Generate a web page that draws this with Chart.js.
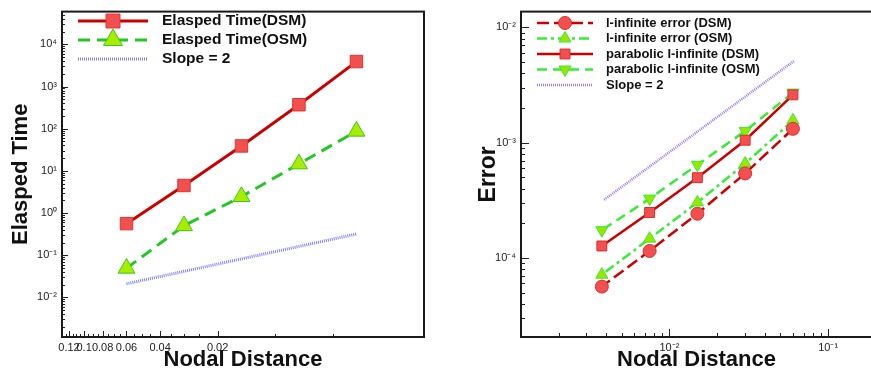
<!DOCTYPE html>
<html>
<head>
<meta charset="utf-8">
<script src="https://cdn.jsdelivr.net/npm/chart.js@4.4.1/dist/chart.umd.min.js"></script>
<style>
    html, body { margin: 0; padding: 0; background: #fff; overflow: hidden; width: 871px; height: 374px; }
    #box-time { position: absolute; left: 0; top: 0; width: 435px; height: 374px; }
    #box-error { position: absolute; left: 435px; top: 0; width: 445px; height: 374px; }
</style>
</head>
<body>
<div id="box-time"><canvas id="chart-time"></canvas></div>
<div id="box-error"><canvas id="chart-error"></canvas></div>
<script>
// ---- data ----
const nodalDistance = [0.06, 0.03, 0.015, 0.0075, 0.00375];

// left chart: elapsed time
const timeDSM = [0.56, 4.5, 39, 370, 3900];
const timeOSM = [0.049, 0.50, 2.45, 14.6, 87];
const slopeTimeX = [0.06, 0.00373];
const slopeTimeY = [0.021, 0.32];

// right chart: errors (same order as nodalDistance)
const linfDSM = [1.32e-3, 5.41e-4, 2.42e-4, 1.15e-4, 5.64e-5];
const linfOSM = [1.56e-3, 6.59e-4, 3.03e-4, 1.47e-4, 7.15e-5];
const paraDSM = [2.60e-3, 1.05e-3, 4.97e-4, 2.48e-4, 1.27e-4];
const paraOSM = [2.72e-3, 1.26e-3, 6.43e-4, 3.27e-4, 1.74e-4];
const slopeErrX = [0.00388, 0.0608];
const slopeErrY = [3.2e-4, 5.1e-3];

// tick labels
const timeXTicks = [0.12, 0.1, 0.08, 0.06, 0.04, 0.02];
const timeXMinor = [0.125, 0.115, 0.11, 0.105, 0.095, 0.09, 0.085, 0.075, 0.07, 0.065,
                    0.055, 0.05, 0.045, 0.035, 0.03, 0.025, 0.01, 0.005];
const timeYTicks = [1e-2, 1e-1, 1e0, 1e1, 1e2, 1e3, 1e4];
const errXTicks = [1e-2, 1e-1];
const errYTicks = [1e-4, 1e-3, 1e-2];

const FONT = '"Liberation Sans", Arial, Helvetica, sans-serif';

function sup(n) {
    const map = { '-': '\u207B', '0': '\u2070', '1': '\u00B9', '2': '\u00B2', '3': '\u00B3',
        '4': '\u2074', '5': '\u2075', '6': '\u2076', '7': '\u2077', '8': '\u2078', '9': '\u2079' };
    return String(n).split('').map(c => map[c]).join('');
}
function powLabel(v) {
    return '10' + sup(Math.round(Math.log10(v)));
}
// 2..9 x 10^d between min and max
function logMinors(min, max) {
    const out = [];
    for (let d = Math.floor(Math.log10(min)); d <= Math.ceil(Math.log10(max)); d++) {
        for (let k = 2; k <= 9; k++) {
            const v = k * Math.pow(10, d);
            if (v > min && v < max) out.push(v);
        }
    }
    return out;
}
function pairs(xs, ys) {
    return xs.map((x, i) => ({ x: x, y: ys[i] }));
}

// frame box + inward tick marks (Tecplot style)
const frameTicks = {
    id: 'frameTicks',
    afterDatasetsDraw(chart, args, opts) {
        const { ctx, chartArea: a } = chart;
        const xs = chart.scales.x, ys = chart.scales.y;
        ctx.save();
        ctx.strokeStyle = '#222';
        ctx.lineWidth = 1;
        ctx.beginPath();
        opts.xMajor.forEach(v => {
            const p = Math.round(xs.getPixelForValue(v)) + 0.5;
            ctx.moveTo(p, a.bottom); ctx.lineTo(p, a.bottom - opts.majorLen);
        });
        opts.xMinor.forEach(v => {
            const p = Math.round(xs.getPixelForValue(v)) + 0.5;
            ctx.moveTo(p, a.bottom); ctx.lineTo(p, a.bottom - opts.minorLen);
        });
        opts.yMajor.forEach(v => {
            const p = Math.round(ys.getPixelForValue(v)) + 0.5;
            ctx.moveTo(a.left, p); ctx.lineTo(a.left + opts.majorLen, p);
        });
        opts.yMinor.forEach(v => {
            const p = Math.round(ys.getPixelForValue(v)) + 0.5;
            ctx.moveTo(a.left, p); ctx.lineTo(a.left + opts.minorLen, p);
        });
        ctx.stroke();
        ctx.strokeStyle = '#1a1a1a';
        ctx.lineWidth = 2;
        ctx.strokeRect(a.left, a.top, a.right - a.left, a.bottom - a.top);
        ctx.restore();
    }
};

// legend with line sample and marker in the middle
const lineLegend = {
    id: 'lineLegend',
    afterDraw(chart, args, opts) {
        const ctx = chart.ctx;
        ctx.save();
        chart.data.datasets.forEach((ds, i) => {
            const y = opts.y0 + i * opts.dy;
            ctx.strokeStyle = ds.borderColor;
            ctx.lineWidth = ds.borderWidth;
            ctx.setLineDash(ds.borderDash || []);
            ctx.beginPath();
            ctx.moveTo(opts.x0, y);
            ctx.lineTo(opts.x1, y);
            ctx.stroke();
            ctx.setLineDash([]);
            if (ds.pointRadius > 0) {
                ctx.fillStyle = ds.pointBackgroundColor;
                ctx.strokeStyle = ds.pointBorderColor;
                ctx.lineWidth = ds.pointBorderWidth;
                Chart.helpers.drawPoint(ctx, {
                    pointStyle: ds.pointStyle,
                    radius: ds.pointRadius * opts.markerScale,
                    rotation: ds.pointRotation || 0,
                    borderWidth: ds.pointBorderWidth
                }, (opts.x0 + opts.x1) / 2, y);
            }
            ctx.fillStyle = '#111';
            ctx.font = 'bold ' + opts.fontSize + 'px ' + FONT;
            ctx.textBaseline = 'middle';
            ctx.textAlign = 'left';
            ctx.fillText(ds.label, opts.tx, y);
        });
        ctx.restore();
    }
};

function baseScales(cfg) {
    return {
        x: {
            type: 'logarithmic',
            min: cfg.xMin, max: cfg.xMax, reverse: !!cfg.reverse,
            afterBuildTicks: s => { s.ticks = cfg.xTicks.map(v => ({ value: v })); },
            afterFit: s => { s.height = 37; },
            grid: { display: false, drawTicks: false },
            border: { display: false },
            ticks: {
                autoSkip: false, maxRotation: 0, padding: 4, color: '#222',
                font: { family: FONT, size: 11 },
                callback: cfg.xLabel
            },
            title: {
                display: true, text: 'Nodal Distance', color: '#111',
                font: { family: FONT, size: 22, weight: 'bold' },
                padding: { top: 0, bottom: 1 }
            }
        },
        y: {
            type: 'logarithmic',
            min: cfg.yMin, max: cfg.yMax,
            afterBuildTicks: s => { s.ticks = cfg.yTicks.map(v => ({ value: v })); },
            afterFit: s => { s.width = cfg.yWidth; },
            grid: { display: false, drawTicks: false },
            border: { display: false },
            ticks: {
                autoSkip: false, padding: 5, color: '#222',
                font: { family: FONT, size: 11 },
                callback: v => powLabel(v)
            },
            title: {
                display: true, text: cfg.yTitle, color: '#111',
                font: { family: FONT, size: cfg.yTitleSize, weight: 'bold' },
                padding: { top: cfg.yTitlePad, bottom: 0 }
            }
        }
    };
}

document.addEventListener('DOMContentLoaded', () => {
    initTimeChart();
    initErrorChart();
});

function initTimeChart() {
    const yMin = 1.15e-3, yMax = 5.97e4, xMin = 0.00166, xMax = 0.1306;
    new Chart(document.getElementById('chart-time'), {
        type: 'line',
        data: {
            datasets: [{
                label: 'Elasped Time(DSM)',
                data: pairs(nodalDistance, timeDSM),
                borderColor: '#cc0000', borderWidth: 3,
                pointStyle: 'rect', pointRadius: 8.8,
                pointBackgroundColor: '#f24f4f', pointBorderColor: '#e03333', pointBorderWidth: 1
            }, {
                label: 'Elasped Time(OSM)',
                data: pairs(nodalDistance, timeOSM),
                borderColor: '#22c822', borderWidth: 3, borderDash: [12, 7],
                pointStyle: 'triangle', pointRadius: 9.8,
                pointBackgroundColor: '#a8ec00', pointBorderColor: '#3cc81e', pointBorderWidth: 1
            }, {
                label: 'Slope = 2',
                data: pairs(slopeTimeX, slopeTimeY),
                borderColor: '#8080ff', borderWidth: 3, borderDash: [1, 1],
                pointRadius: 0
            }]
        },
        options: {
            animation: false, responsive: true, maintainAspectRatio: false,
            layout: { padding: { left: 0, top: 6, right: 11, bottom: 0 } },
            scales: baseScales({
                xMin, xMax, reverse: true, xTicks: timeXTicks,
                xLabel: v => String(v),
                yMin, yMax, yTicks: timeYTicks, yWidth: 62,
                yTitle: 'Elasped Time', yTitleSize: 22, yTitlePad: 8
            }),
            plugins: {
                legend: { display: false },
                tooltip: { enabled: false },
                frameTicks: {
                    xMajor: timeXTicks, xMinor: timeXMinor,
                    yMajor: timeYTicks, yMinor: logMinors(yMin, yMax),
                    majorLen: 6, minorLen: 3
                },
                lineLegend: { x0: 78, x1: 148, tx: 162, y0: 21, dy: 19, fontSize: 15.5, markerScale: 1.12 }
            }
        },
        plugins: [frameTicks, lineLegend]
    });
}

function initErrorChart() {
    const yMin = 2.06e-5, yMax = 1.372e-2, xMin = 1.16e-3, xMax = 0.189;
    new Chart(document.getElementById('chart-error'), {
        type: 'line',
        data: {
            datasets: [{
                label: 'l-infinite error (DSM)',
                data: pairs(nodalDistance, linfDSM),
                borderColor: '#cc0000', borderWidth: 2.5, borderDash: [12, 5],
                pointStyle: 'circle', pointRadius: 6.5,
                pointBackgroundColor: '#f25050', pointBorderColor: '#e02a2a', pointBorderWidth: 1
            }, {
                label: 'l-infinite error (OSM)',
                data: pairs(nodalDistance, linfOSM),
                borderColor: '#33ee33', borderWidth: 2.5, borderDash: [10, 4, 3, 4],
                pointStyle: 'triangle', pointRadius: 7,
                pointBackgroundColor: '#99e600', pointBorderColor: '#33ee33', pointBorderWidth: 1
            }, {
                label: 'parabolic l-infinite (DSM)',
                data: pairs(nodalDistance, paraDSM),
                borderColor: '#cc0000', borderWidth: 2.5,
                pointStyle: 'rect', pointRadius: 7,
                pointBackgroundColor: '#f25050', pointBorderColor: '#e02a2a', pointBorderWidth: 1
            }, {
                label: 'parabolic l-infinite (OSM)',
                data: pairs(nodalDistance, paraOSM),
                borderColor: '#33ee33', borderWidth: 2.5, borderDash: [10, 6],
                pointStyle: 'triangle', pointRotation: 180, pointRadius: 7,
                pointBackgroundColor: '#99e600', pointBorderColor: '#33ee33', pointBorderWidth: 1
            }, {
                label: 'Slope = 2',
                data: pairs(slopeErrX, slopeErrY),
                borderColor: '#9a78ff', borderWidth: 2.5, borderDash: [1, 1],
                pointRadius: 0
            }]
        },
        options: {
            animation: false, responsive: true, maintainAspectRatio: false,
            layout: { padding: { left: 0, top: 8, right: 4, bottom: 0 } },
            scales: baseScales({
                xMin, xMax, reverse: false, xTicks: errXTicks,
                xLabel: v => powLabel(v),
                yMin, yMax, yTicks: errYTicks, yWidth: 86,
                yTitle: 'Error', yTitleSize: 23, yTitlePad: 40
            }),
            plugins: {
                legend: { display: false },
                tooltip: { enabled: false },
                frameTicks: {
                    xMajor: errXTicks, xMinor: logMinors(xMin, xMax),
                    yMajor: errYTicks, yMinor: logMinors(yMin, yMax),
                    majorLen: 8, minorLen: 4
                },
                lineLegend: { x0: 102, x1: 158, tx: 171, y0: 23, dy: 15.5, fontSize: 13, markerScale: 1 }
            }
        },
        plugins: [frameTicks, lineLegend]
    });
}
</script>
</body>
</html>
